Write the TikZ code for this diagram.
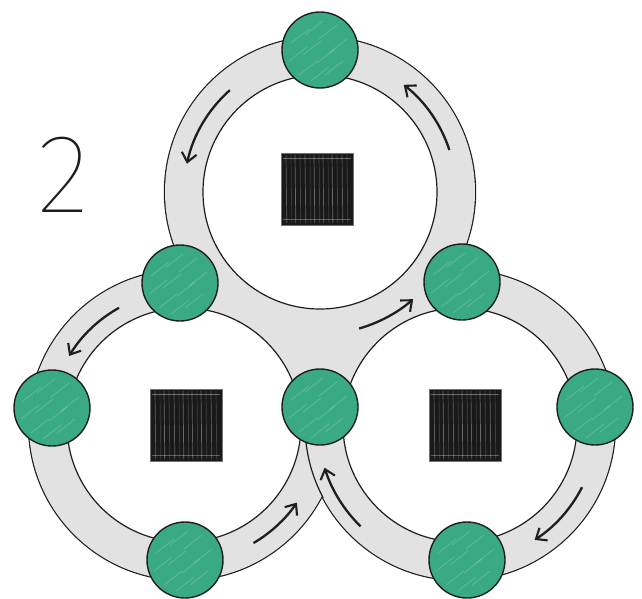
\documentclass[tikz,border=0pt]{standalone}
\usepackage{fontspec}
\newfontfamily\twofont{Fira Sans Thin}
\usetikzlibrary{arrows.meta,calc}
\definecolor{bandgray}{RGB}{226,226,226}
\definecolor{ballgreen}{RGB}{58,170,133}
\definecolor{ink}{RGB}{30,30,30}
\begin{document}
\begin{tikzpicture}[x=1pt,y=-1pt,
  ball/.style={circle,minimum size=76pt,inner sep=0pt,fill=ballgreen,draw=ink,line width=1.4pt,
    path picture={
      \foreach \dx/\dy in {-20/-14,-6/-22,8/-18,18/-4,-22/4,-8/-2,6/6,14/18,-12/18,0/24}{
        \draw[white,opacity=0.18,line width=0.8pt]
          ($(path picture bounding box.center)+(\dx-9,\dy+7)$) -- ++(18,-14);
      }}},
  block/.style={rectangle,minimum size=72pt,inner sep=0pt,fill=black!90,draw=black!55,line width=1pt,
    path picture={
      \foreach \xx/\op in {-31/0.3,-26/0.15,-22/0.35,-17/0.2,-12/0.3,-7/0.15,-3/0.35,2/0.2,6/0.3,11/0.15,15/0.35,20/0.2,25/0.3,30/0.18}{
        \draw[white,opacity=\op,line width=0.7pt]
          ($(path picture bounding box.center)+(\xx,-34)$) -- ++(0.8,68);
      }
      \draw[white,opacity=0.35,line width=0.6pt] ($(path picture bounding box.center)+(-34,-31)$) -- ++(68,0);
      \draw[white,opacity=0.3,line width=0.6pt] ($(path picture bounding box.center)+(-34,30)$) -- ++(68,0);
    }},
  flow/.style={ink,line width=2.3pt,-{Straight Barb[length=9pt,width=15pt,line width=2.1pt]}},
  rim/.style={ink,line width=1.2pt}]
\useasboundingbox (0,0) rectangle (642,599);
\fill[white] (0,0) rectangle (642,599);
\coordinate (T) at (320,192);
\coordinate (L) at (184,425);
\coordinate (R) at (460,425);
% outer outline of the union of rings
\foreach \c in {T,L,R} \draw[ink,line width=2.4pt] (\c) circle[radius=155];
% gray bands
\fill[bandgray] (T) circle[radius=155];
\fill[bandgray] (L) circle[radius=155];
\fill[bandgray] (R) circle[radius=155];
\fill[bandgray] (180,283) -- (462,282) -- (320,407) -- cycle;
% right ring passes over left ring
\draw[rim] ([shift={(152:155)}]R) arc[start angle=152,end angle=182,radius=155];
% holes
\foreach \c in {T,L,R} \draw[rim,fill=white] (\c) circle[radius=117];
% arrows
\draw[flow] ([shift={(228.5:136)}]T) arc[start angle=228.5,end angle=192,radius=136];
\draw[flow] ([shift={(-18:136)}]T) arc[start angle=-18,end angle=-52,radius=136];
\draw[flow] ([shift={(74:142)}]T) arc[start angle=74,end angle=49,radius=142];
\draw[flow] ([shift={(241:134)}]L) arc[start angle=241,end angle=211,radius=134];
\draw[flow] ([shift={(59.5:137)}]L) arc[start angle=59.5,end angle=34.5,radius=137];
\draw[flow] ([shift={(134.5:142)}]R) arc[start angle=134.5,end angle=162.5,radius=142];
\draw[flow] ([shift={(27:137)}]R) arc[start angle=27,end angle=57,radius=137];
% green balls
\node[ball] (gtop) at (320,50) {};
\node[ball] (gul) at (180,283) {};
\node[ball] (gur) at (462,282) {};
\node[ball] (gl) at (52,408) {};
\node[ball] (gm) at (320,407) {};
\node[ball] (gr) at (595,407) {};
\node[ball] (gbl) at (185,560) {};
\node[ball] (gbr) at (467,560) {};
% black blocks
\node[block] (btop) at (317,189) {};
\node[block] (bl) at (186,425) {};
\node[block] (br) at (465,425) {};
% label
\node[inner sep=0pt,text=ink] (num) at (63,175) {\twofont\fontsize{112}{112}\selectfont 2};
\end{tikzpicture}
\end{document}
